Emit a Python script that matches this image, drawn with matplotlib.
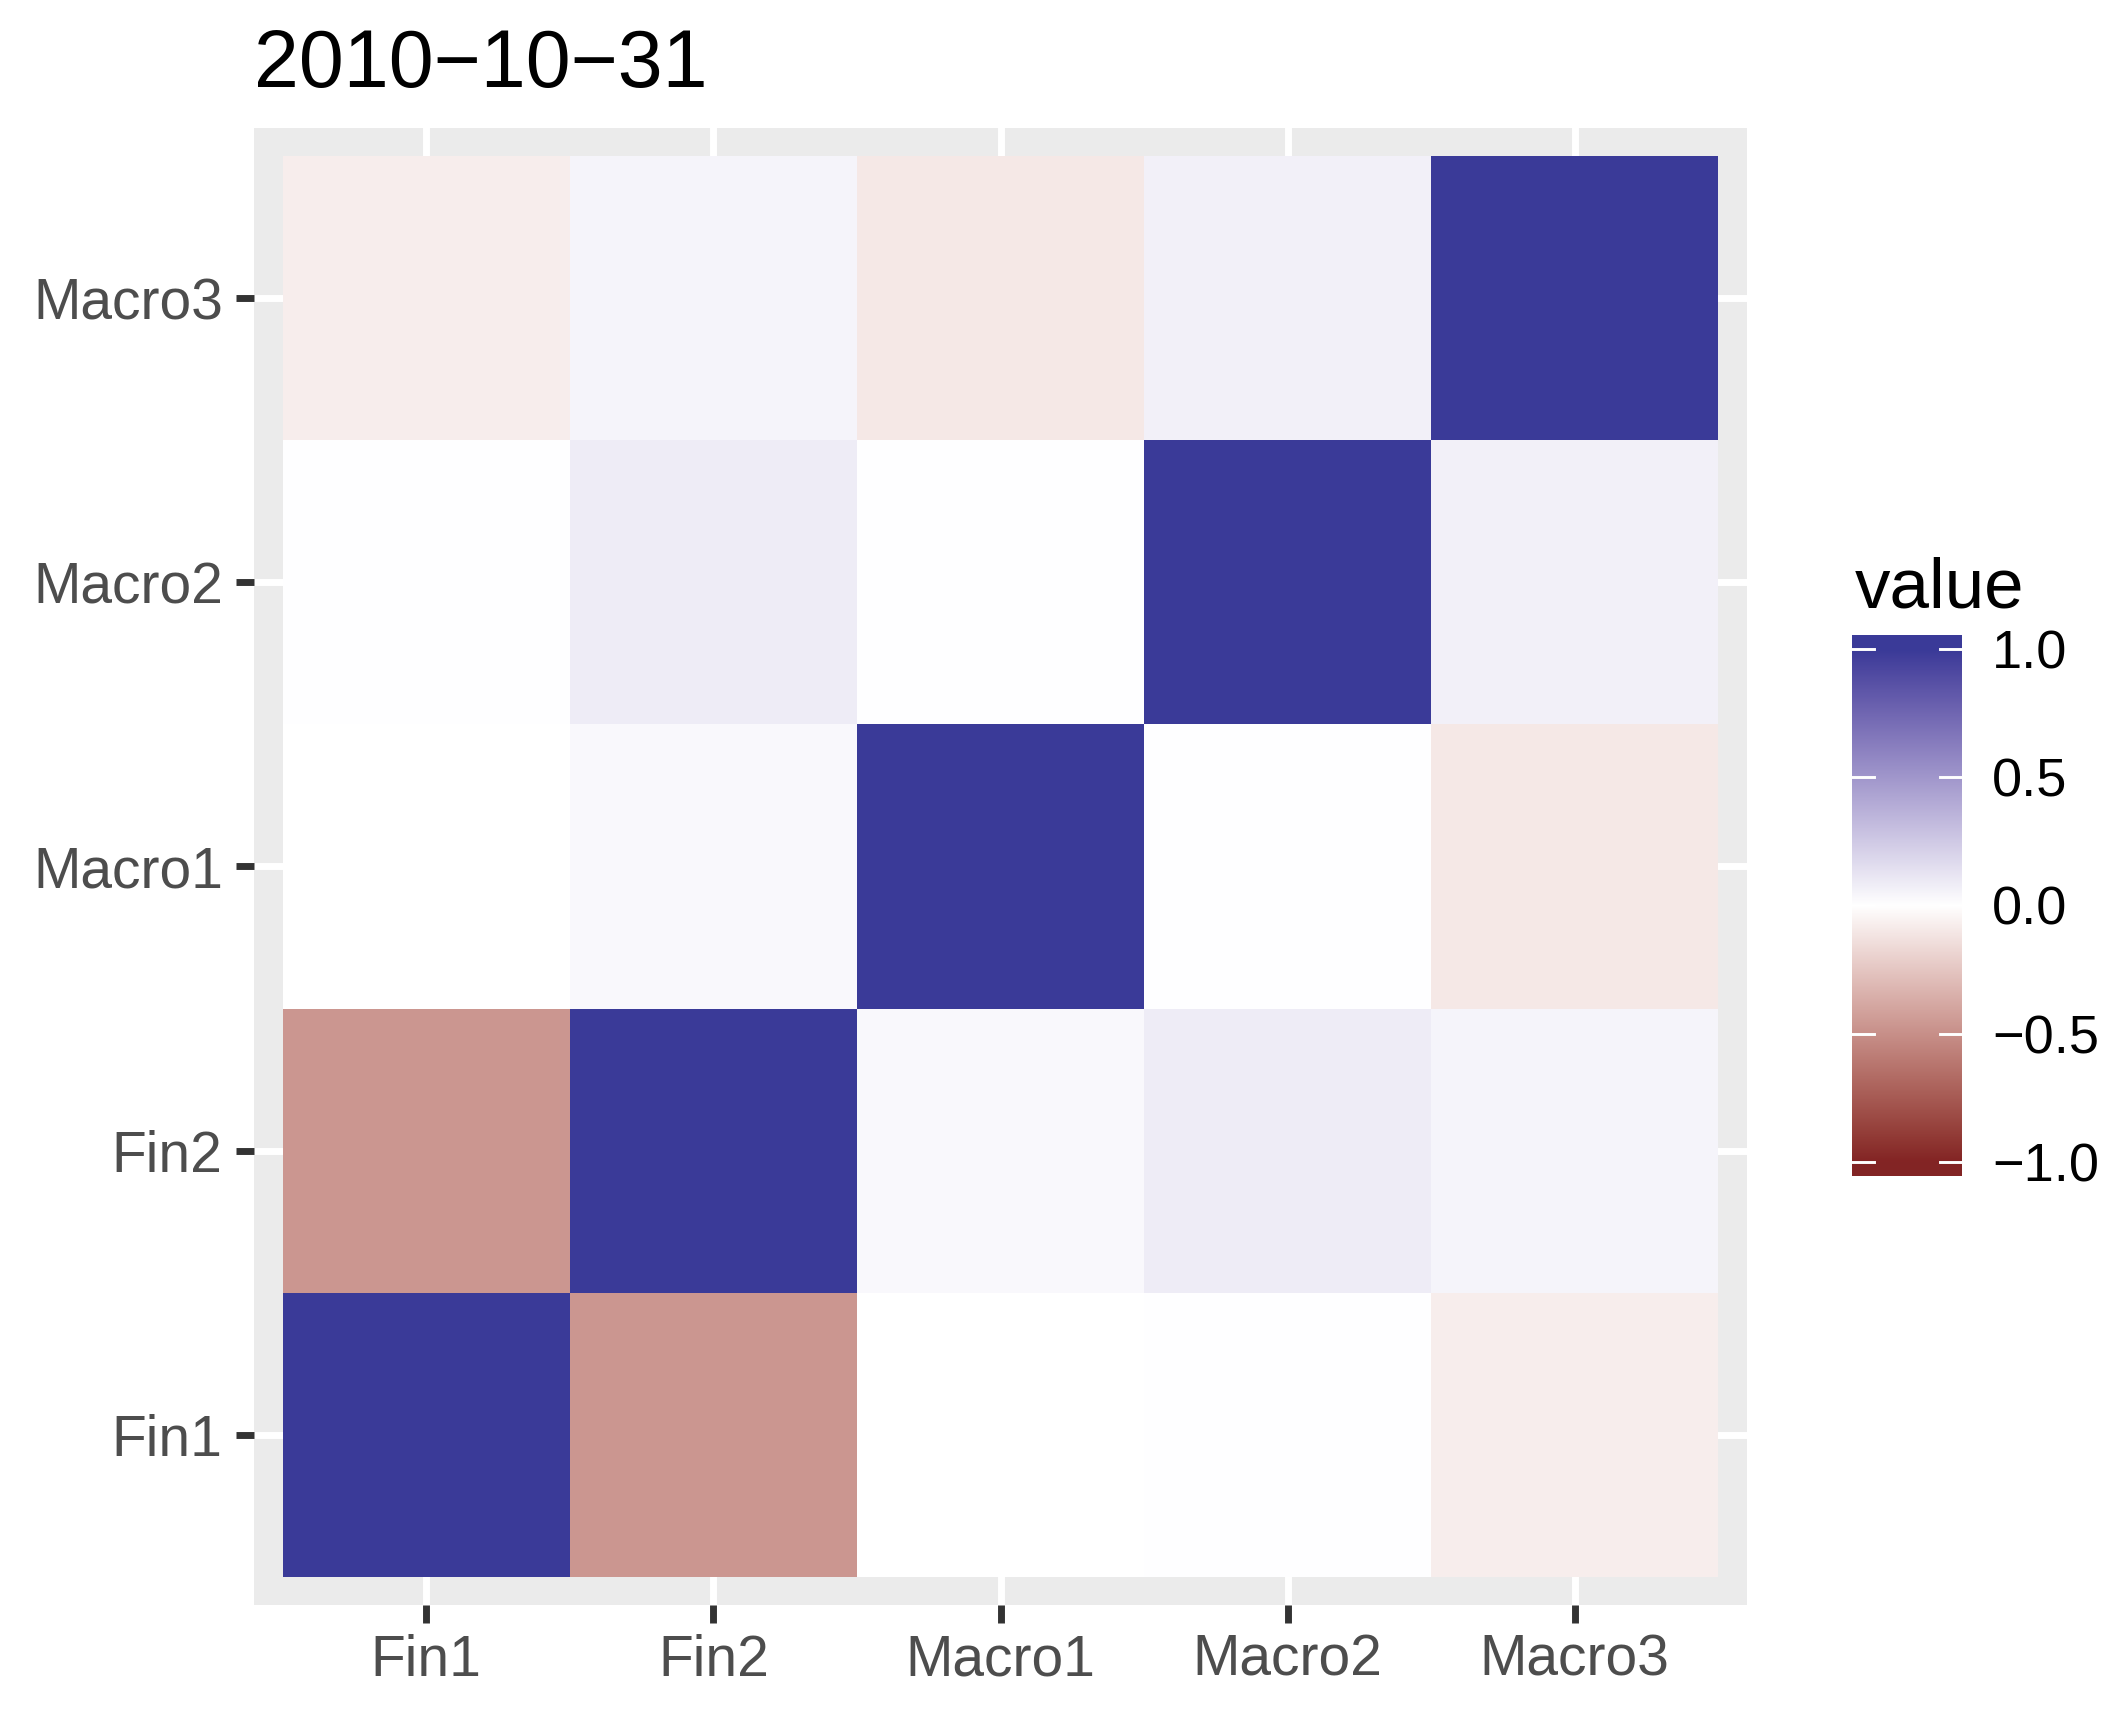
import numpy as np
import matplotlib
matplotlib.use("Agg")
import matplotlib.pyplot as plt
from matplotlib.colors import ListedColormap, to_rgb

plt.rcParams['font.family'] = ['Liberation Sans', 'DejaVu Sans']

# data
labels = ["Fin1", "Fin2", "Macro1", "Macro2", "Macro3"]
# rows follow the y axis from bottom (Fin1) to top (Macro3), columns follow x
row_fin1 = [1.00, -0.47, 0.00, 0.005, -0.08]
row_fin2 = [-0.47, 1.00, 0.03, 0.09, 0.05]
row_macro1 = [0.00, 0.03, 1.00, 0.005, -0.10]
row_macro2 = [0.005, 0.09, 0.005, 1.00, 0.07]
row_macro3 = [-0.08, 0.05, -0.10, 0.07, 1.00]
title = "2010\u221210\u221231"
legend_ticks = [-1.0, -0.5, 0.0, 0.5, 1.0]

corr = np.array([row_fin1, row_fin2, row_macro1, row_macro2, row_macro3])

# diverging gradient interpolated in Lab space (like ggplot's gradient2)
low, mid, high = "#832424", "white", "#3A3A98"

def srgb_to_lab(c):
    c = np.asarray(c, float)
    lin = np.where(c <= 0.04045, c / 12.92, ((c + 0.055) / 1.055) ** 2.4)
    m = np.array([[0.4124, 0.3576, 0.1805],
                  [0.2126, 0.7152, 0.0722],
                  [0.0193, 0.1192, 0.9505]])
    xyz = m @ lin / np.array([0.95047, 1.0, 1.08883])
    f = np.where(xyz > 0.008856, np.cbrt(xyz), 7.787 * xyz + 16 / 116)
    return np.array([116 * f[1] - 16, 500 * (f[0] - f[1]), 200 * (f[1] - f[2])])

def lab_to_srgb(lab):
    L, a, b = lab
    fy = (L + 16) / 116
    fx = fy + a / 500
    fz = fy - b / 200
    f = np.array([fx, fy, fz])
    xyz = np.where(f ** 3 > 0.008856, f ** 3, (f - 16 / 116) / 7.787)
    xyz = xyz * np.array([0.95047, 1.0, 1.08883])
    m = np.array([[3.2406, -1.5372, -0.4986],
                  [-0.9689, 1.8758, 0.0415],
                  [0.0557, -0.2040, 1.0570]])
    lin = m @ xyz
    c = np.where(lin <= 0.0031308, 12.92 * lin, 1.055 * np.clip(lin, 0, None) ** (1 / 2.4) - 0.055)
    return np.clip(c, 0, 1)

lab_lo, lab_mid, lab_hi = (srgb_to_lab(to_rgb(c)) for c in (low, mid, high))
n = 256
cols = []
for t in np.linspace(0, 1, n):
    cols.append(lab_to_srgb(lab_lo + (lab_mid - lab_lo) * t))
for t in np.linspace(0, 1, n)[1:]:
    cols.append(lab_to_srgb(lab_mid + (lab_hi - lab_mid) * t))
cmap = ListedColormap(cols)

W, H = 2124, 1713
fig = plt.figure(figsize=(W / 300, H / 300), dpi=300)

ax = fig.add_axes([254 / W, 1 - 1605 / H, (1747 - 254) / W, (1605 - 128) / H])
ax.set_facecolor("#EBEBEB")
pos = np.arange(len(labels))
edges = np.arange(len(labels) + 1) - 0.5
ax.pcolormesh(edges, edges, corr, cmap=cmap, vmin=-1, vmax=1, zorder=2)
ax.set_xlim(-0.6, len(labels) - 0.4)
ax.set_ylim(-0.6, len(labels) - 0.4)
ax.set_xticks(pos)
ax.set_xticklabels(labels)
ax.set_yticks(pos)
ax.set_yticklabels(labels)
ax.grid(True, color="white", linewidth=1.66, zorder=1)
ax.set_axisbelow(True)
for s in ax.spines.values():
    s.set_visible(False)
ax.tick_params(axis="both", length=4.3, width=1.66, color="#333333",
               labelcolor="#4D4D4D", labelsize=13.7)
ax.tick_params(axis="x", pad=2.6)
ax.tick_params(axis="y", pad=3.2)

fig.text(254 / W, 1 - 87 / H, title, fontsize=19.4, color="black",
         ha="left", va="baseline")

# colour bar
lim = 1.054
cax = fig.add_axes([1852 / W, 1 - 1176 / H, 110 / W, 541 / H])
grad = np.clip(np.linspace(-lim, lim, 400), -1, 1)[:, None]
cax.imshow(grad, cmap=cmap, vmin=-1, vmax=1, origin="lower",
           extent=[0, 1, -lim, lim], aspect="auto", interpolation="bilinear")
cax.set_xlim(0, 1)
cax.set_ylim(-lim, lim)
for v in legend_ticks:
    cax.plot([0, 0.2], [v, v], color="white", linewidth=0.7)
    cax.plot([0.8, 1], [v, v], color="white", linewidth=0.7)
for s in cax.spines.values():
    s.set_visible(False)
cax.set_xticks([])
cax.yaxis.tick_right()
cax.set_yticks(legend_ticks)
cax.set_yticklabels([f"{v:.1f}".replace("-", "\u2212") for v in legend_ticks])
cax.tick_params(axis="y", length=0, pad=7.2, labelsize=13.0, labelcolor="black")

fig.text(1855 / W, 1 - 608 / H, "value", fontsize=17, color="black",
         ha="left", va="baseline")

fig.savefig("out.png", dpi=300, facecolor="white")
